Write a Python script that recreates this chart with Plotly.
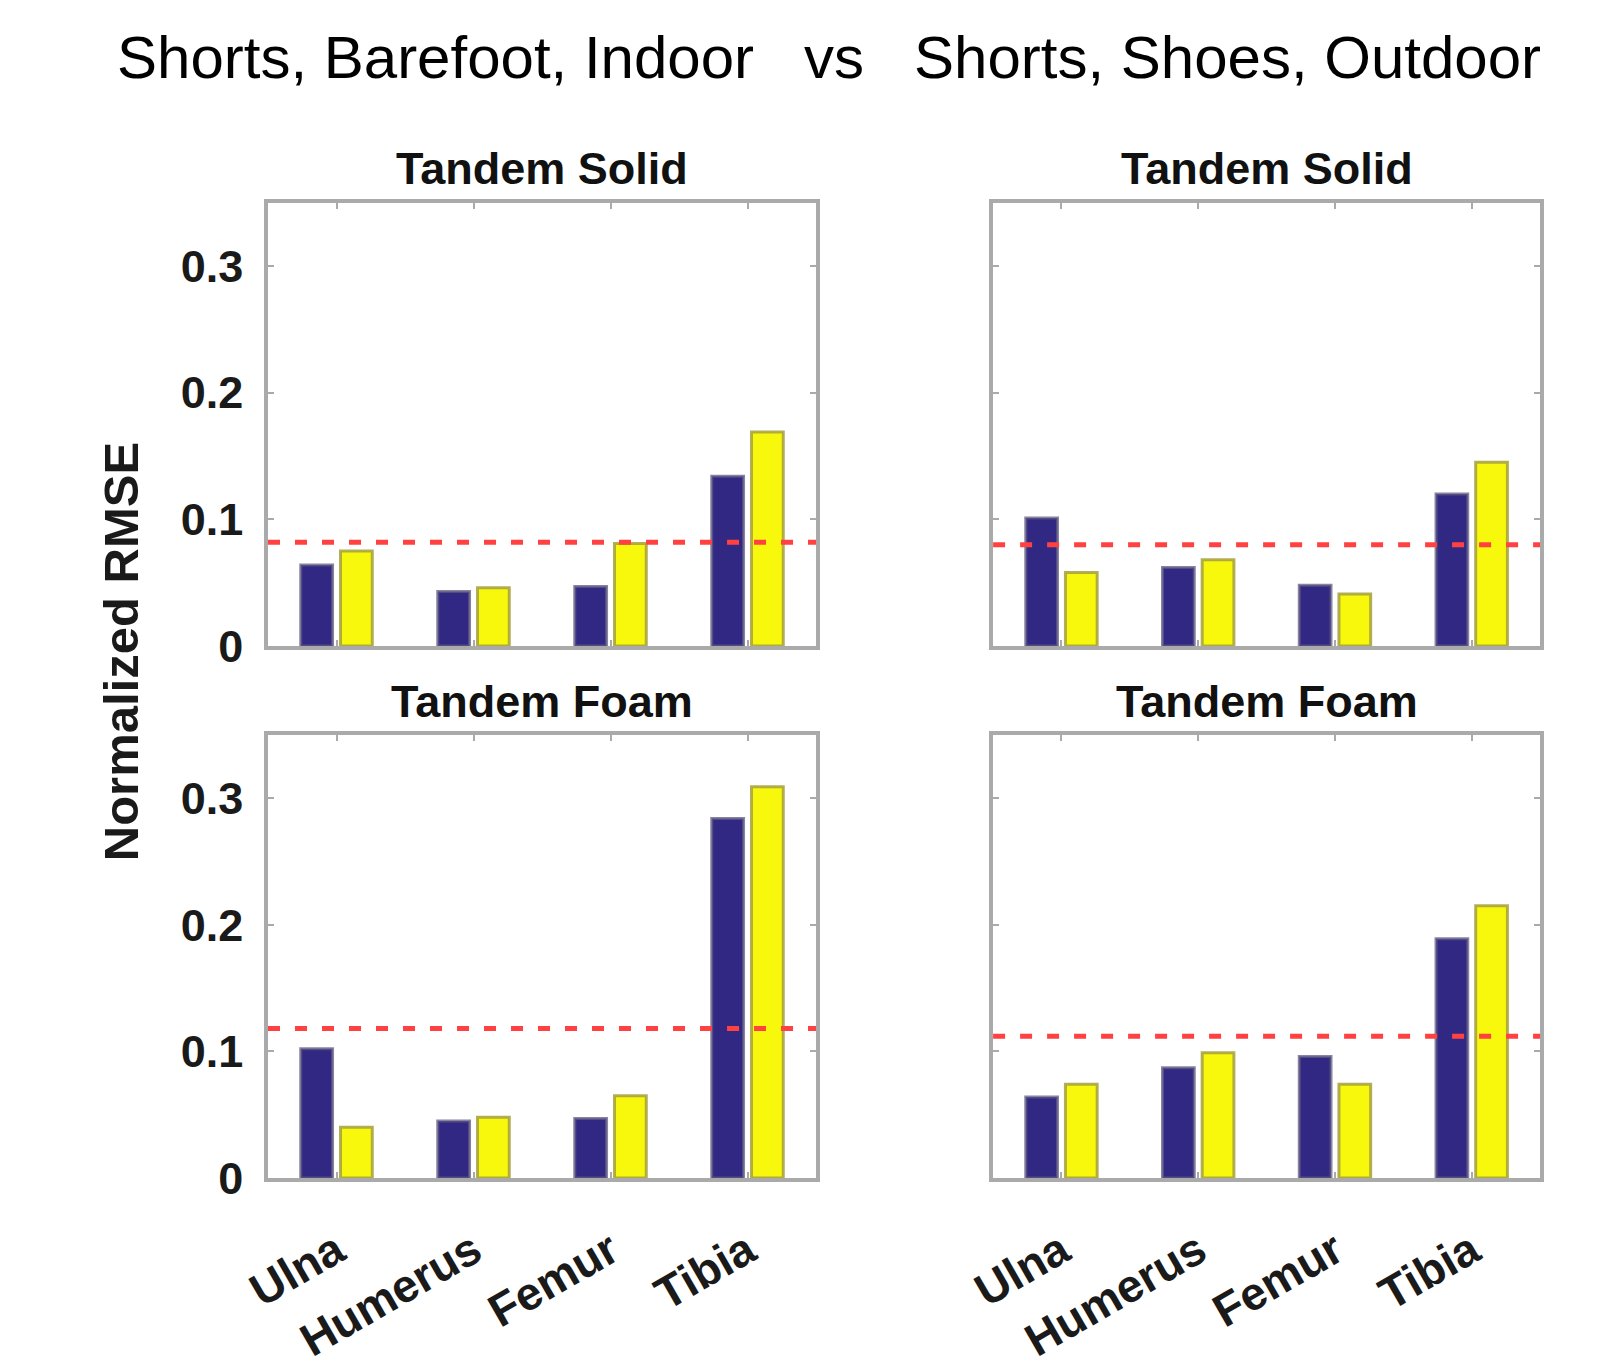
import plotly.graph_objects as go

# ---------------- data ----------------
bones = ["Ulna", "Humerus", "Femur", "Tibia"]
main_title = "Shorts, Barefoot, Indoor   vs   Shorts, Shoes, Outdoor"
panel_titles = ["Tandem Solid", "Tandem Foam"]
y_title = "Normalized RMSE"
y_ticks = [0, 0.1, 0.2, 0.3]
y_tick_text = ["0", "0.1", "0.2", "0.3"]

# left column: Shorts, Barefoot, Indoor
left_solid_blue = [0.064, 0.043, 0.047, 0.134]
left_solid_yellow = [0.075, 0.046, 0.081, 0.169]
left_solid_threshold = 0.082
left_foam_blue = [0.102, 0.045, 0.047, 0.284]
left_foam_yellow = [0.040, 0.048, 0.065, 0.309]
left_foam_threshold = 0.118

# right column: Shorts, Shoes, Outdoor
right_solid_blue = [0.101, 0.062, 0.048, 0.120]
right_solid_yellow = [0.058, 0.068, 0.041, 0.145]
right_solid_threshold = 0.080
right_foam_blue = [0.064, 0.087, 0.096, 0.189]
right_foam_yellow = [0.074, 0.099, 0.074, 0.215]
right_foam_threshold = 0.112

# ---------------- layout geometry ----------------
W, H = 1607, 1366
col_x = [(246 / W, 803 / W), (983 / W, 1539 / W)]
row_top_px = [210, 761]
row_bot_px = [669, 1220]
row_y = [(1 - row_bot_px[i] / H, 1 - row_top_px[i] / H) for i in range(2)]

BLUE = "#312884"
YELLOW = "#f8f80c"
GREY = "#aaaaaa"
FONT = "Liberation Sans, Arial, sans-serif"

panels = [
    (0, 0, left_solid_blue, left_solid_yellow, left_solid_threshold),
    (0, 1, right_solid_blue, right_solid_yellow, right_solid_threshold),
    (1, 0, left_foam_blue, left_foam_yellow, left_foam_threshold),
    (1, 1, right_foam_blue, right_foam_yellow, right_foam_threshold),
]

fig = go.Figure()
shapes = []
annotations = []
layout_axes = {}

for i, (r, c, blue, yellow, thr) in enumerate(panels):
    idx = "" if i == 0 else str(i + 1)
    xa, ya = "x" + idx, "y" + idx
    fig.add_trace(go.Bar(x=bones, y=blue, xaxis=xa, yaxis=ya, name="Series 1",
                         marker=dict(color=BLUE, line=dict(color="rgba(95,90,130,0.75)", width=3)),
                         offsetgroup="a", showlegend=False))
    fig.add_trace(go.Bar(x=bones, y=yellow, xaxis=xa, yaxis=ya, name="Series 2",
                         marker=dict(color=YELLOW, line=dict(color="rgba(165,160,60,0.85)", width=3)),
                         offsetgroup="b", showlegend=False))
    shapes.append(dict(type="line", xref=xa + " domain", yref=ya, x0=0, x1=1, y0=thr, y1=thr,
                       line=dict(color="rgb(255,65,65)", width=5, dash="12px,15px"), layer="above"))
    layout_axes["xaxis" + idx] = dict(
        domain=col_x[c], anchor=ya, type="category", categoryorder="array", categoryarray=bones,
        range=[-0.5, 3.5], showline=True, linecolor=GREY, linewidth=3.5, mirror="allticks",
        ticks="inside", ticklen=6, tickwidth=2, tickcolor=GREY,
        showticklabels=(r == 1), tickangle=-30, ticklabelstandoff=24,
        tickfont=dict(family=FONT, size=46, color="#1a1a1a", weight="bold"),
        showgrid=False, zeroline=False, fixedrange=True,
    )
    layout_axes["yaxis" + idx] = dict(
        domain=row_y[r], anchor=xa, range=[0, 0.35], tickvals=y_ticks, ticktext=y_tick_text,
        showline=True, linecolor=GREY, linewidth=3.5, mirror="allticks",
        ticks="inside", ticklen=6, tickwidth=2, tickcolor=GREY,
        showticklabels=(c == 0), ticklabelstandoff=12,
        tickfont=dict(family=FONT, size=45, color="#1a1a1a", weight="bold"),
        showgrid=False, zeroline=False, fixedrange=True,
    )
    annotations.append(dict(
        text="<b>" + panel_titles[r] + "</b>", xref="paper", yref="paper",
        x=(col_x[c][0] + col_x[c][1]) / 2, y=1 - (row_top_px[r] - 35) / H,
        xanchor="center", yanchor="middle", showarrow=False,
        font=dict(family=FONT, size=45, color="#111111"),
    ))

annotations.append(dict(
    text=main_title, xref="paper", yref="paper", x=816 / W, y=1 - 60 / H,
    xanchor="center", yanchor="middle", showarrow=False,
    font=dict(family=FONT, size=60, color="#000000"),
))
annotations.append(dict(
    text="<b>" + y_title + "</b>", xref="paper", yref="paper", x=96 / W, y=1 - 675 / H,
    xanchor="center", yanchor="middle", showarrow=False, textangle=-90,
    font=dict(family=FONT, size=49, color="#1a1a1a"),
))

fig.update_layout(
    width=W, height=H, margin=dict(l=0, r=0, t=0, b=0),
    paper_bgcolor="white", plot_bgcolor="white",
    barmode="group", bargap=0.42, bargroupgap=0.2,
    shapes=shapes, annotations=annotations, showlegend=False,
    **layout_axes,
)

fig.write_html("out.html", config={"displayModeBar": False})
